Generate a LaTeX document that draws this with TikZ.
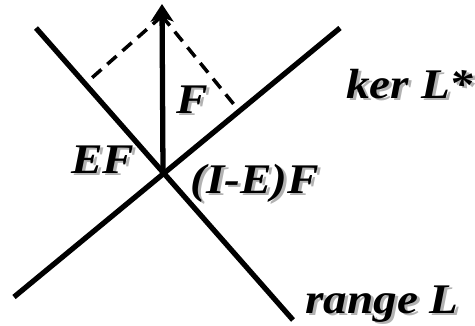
\documentclass[tikz,border=0pt]{standalone}
\usepackage{fontspec}
\setmainfont{Liberation Serif}
\usetikzlibrary{arrows.meta,calc}
\newcommand\shtxt[1]{\scalebox{1.12}[1]{\rlap{\kern1.5pt\raisebox{-1.5pt}{\textcolor{black!30}{#1}}}#1}}
\tikzset{
  axisline/.style={line width=3pt},
  projline/.style={line width=2pt, dash pattern=on 7pt off 4.5pt},
  lbl/.style={anchor=base west, inner sep=0pt,
    font=\fontsize{24}{28}\selectfont\bfseries\itshape}
}
\begin{document}
\begin{tikzpicture}[x=0.02cm,y=-0.02cm]
\useasboundingbox (0,0) rectangle (475,325);
\coordinate (O) at (163,172);
\coordinate (rtop) at (36,28);
\coordinate (rbot) at (293,320);
\coordinate (ktop) at (340,28);
\coordinate (kbot) at (14,297);
\coordinate (T) at (162,4);
\coordinate (P) at (162,16);
\coordinate (fr) at ($(O)!(P)!(rtop)$);
\coordinate (fk) at ($(O)!(P)!(ktop)$);
\draw[axisline] (rtop) -- (rbot);
\draw[axisline] (kbot) -- (ktop);
\draw[projline] (P) -- (fr);
\draw[projline] (P) -- (fk);
\draw[axisline, -{Stealth[length=10pt,width=13pt,inset=2.5pt]}] (O) -- (T);
\node[lbl] (lF) at (176,113) {\shtxt{F}};
\node[lbl] (lEF) at (71,173) {\shtxt{EF}};
\node[lbl] (lIEF) at (190,193) {\shtxt{(I-E)F}};
\node[lbl] (lker) at (346,98) {\shtxt{ker L*}};
\node[lbl] (lrange) at (305,313) {\shtxt{range L}};
\end{tikzpicture}
\end{document}
